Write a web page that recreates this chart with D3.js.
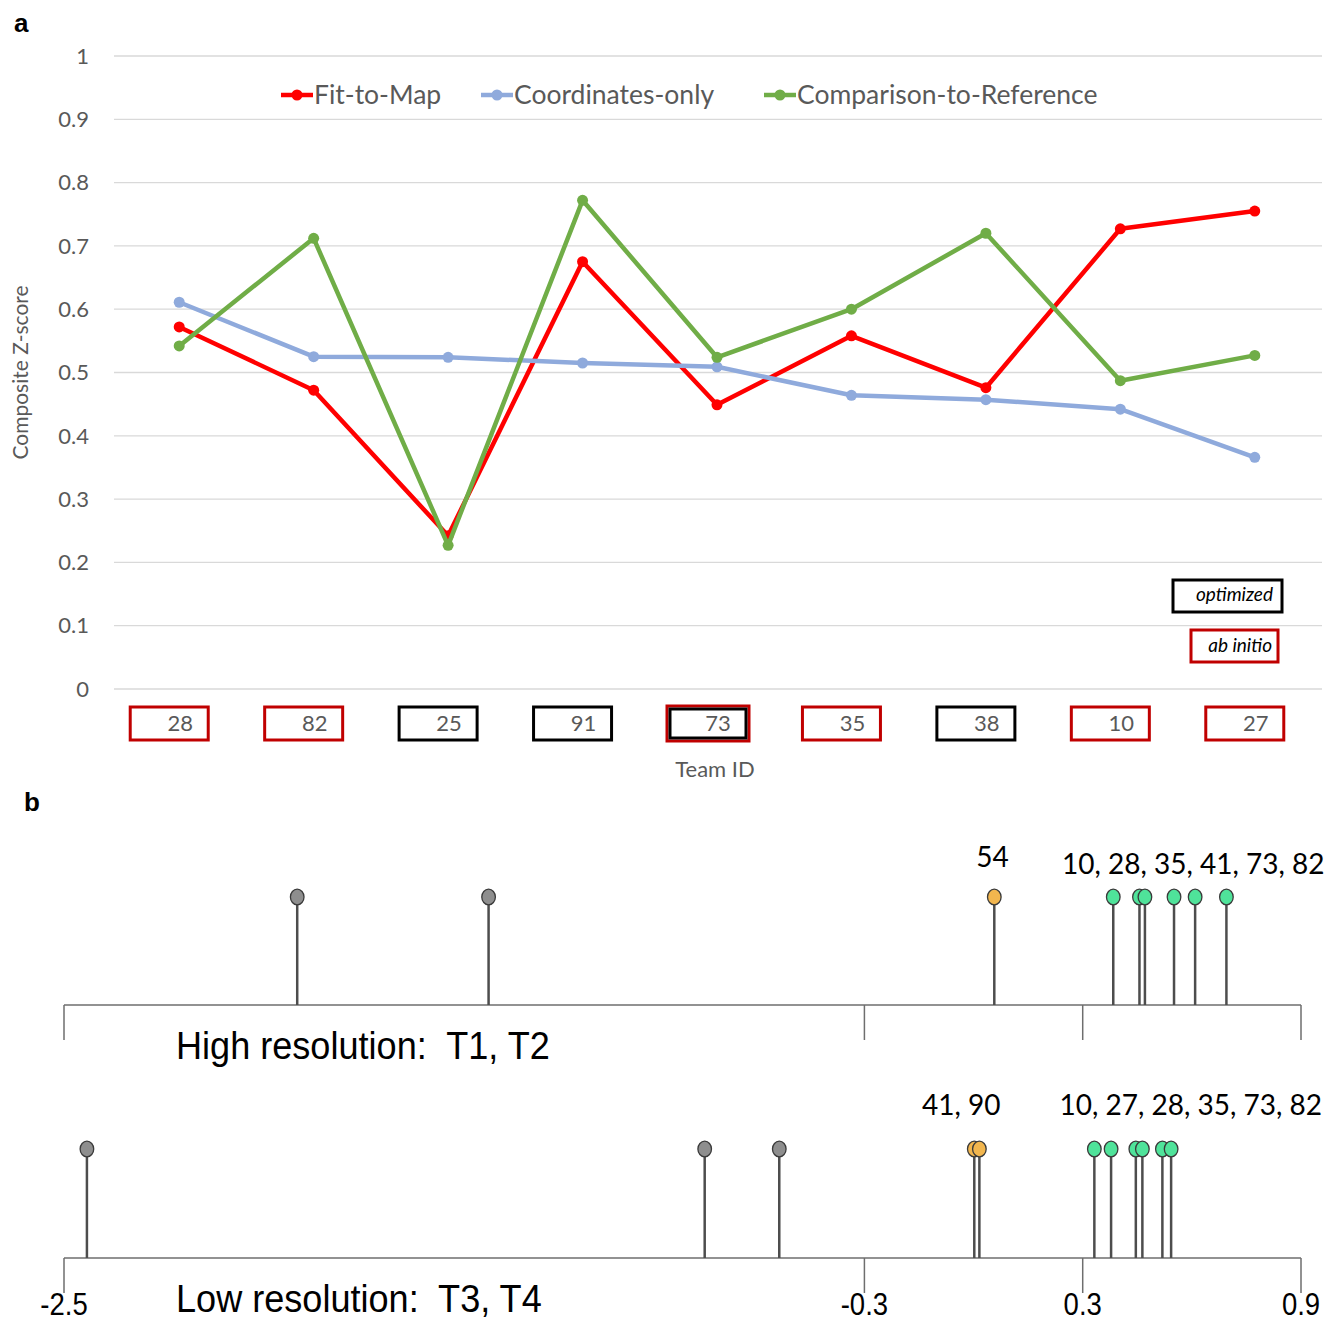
<!DOCTYPE html>
<html>
<head>
<meta charset="utf-8">
<script src="https://cdn.jsdelivr.net/npm/d3@7"></script>
<style>
  body { margin: 0; background: #fff; }
  svg { display: block; }
</style>
</head>
<body>
<div id="chart"></div>
<script>
// ---- panel a data ----
const teams = ['28', '82', '25', '91', '73', '35', '38', '10', '27']
const teamKind = ['abinitio', 'abinitio', 'optimized', 'optimized', 'both', 'abinitio', 'optimized', 'abinitio', 'abinitio']
const fitToMap = [0.572, 0.472, 0.242, 0.675, 0.449, 0.558, 0.476, 0.727, 0.755]
const coordsOnly = [0.611, 0.525, 0.524, 0.515, 0.509, 0.464, 0.457, 0.442, 0.366]
const compToRef = [0.542, 0.712, 0.227, 0.772, 0.524, 0.600, 0.720, 0.487, 0.527]
const seriesNames = ['Fit-to-Map', 'Coordinates-only', 'Comparison-to-Reference']
const yTicks = [0, 0.1, 0.2, 0.3, 0.4, 0.5, 0.6, 0.7, 0.8, 0.9, 1]

// ---- panel b data ----
const highVals = [-1.859, -1.333, 0.057, 0.384, 0.456, 0.471, 0.551, 0.609, 0.695]
const highGroup = ['grey', 'grey', 'orange', 'green', 'green', 'green', 'green', 'green', 'green']
const lowVals = [-2.437, -0.739, -0.534, 0.002, 0.016, 0.332, 0.378, 0.446, 0.464, 0.519, 0.543]
const lowGroup = ['grey', 'grey', 'grey', 'orange', 'orange', 'green', 'green', 'green', 'green', 'green', 'green']
const bTicks = [-2.5, -0.3, 0.3, 0.9]
const highLabels = [['54', 0.052], ['10, 28, 35, 41, 73, 82', 0.604]]
const lowLabels = [['41, 90', -0.034], ['10, 27, 28, 35, 73, 82', 0.597]]

const width = 1331
const height = 1324
const excelFont = 'Lato, "Open Sans", sans-serif'
const narrowFont = '"Liberation Sans", Arial, sans-serif'
const grey = '#595959'

const svg = d3.select('#chart')
    .append('svg')
    .attr('width', width)
    .attr('height', height)

// ================= panel a =================
const x = d3.scaleBand()
    .domain(teams)
    .range([112, 1322])

const y = d3.scaleLinear()
    .domain([0, 1])
    .range([689, 56])

const cx = (t) => x(t) + x.bandwidth() / 2

svg.append('text')
    .attr('x', 14).attr('y', 32)
    .style('font', 'bold 26px "Liberation Sans", Arial, sans-serif')
    .text('a')

// gridlines + tick labels
const grid = svg.append('g')
grid.selectAll('line')
    .data(yTicks)
    .join('line')
    .attr('x1', 114).attr('x2', 1322)
    .attr('y1', (d) => y(d)).attr('y2', (d) => y(d))
    .attr('stroke', '#d9d9d9')
    .attr('stroke-width', 1.3)

grid.selectAll('text')
    .data(yTicks)
    .join('text')
    .attr('x', 89)
    .attr('y', (d) => y(d))
    .attr('dy', '0.35em')
    .attr('text-anchor', 'end')
    .attr('fill', grey)
    .style('font-family', excelFont)
    .style('font-size', '22px')
    .text((d) => d)

svg.append('text')
    .attr('transform', `translate(28, ${y(0.5)}) rotate(-90)`)
    .attr('text-anchor', 'middle')
    .attr('fill', grey)
    .style('font-family', excelFont)
    .style('font-size', '21px')
    .text('Composite Z-score')

// series
const colors = ['#ff0000', '#8faadc', '#70ad47']
const allSeries = [fitToMap, coordsOnly, compToRef]
const line = d3.line()
    .x((d, i) => cx(teams[i]))
    .y((d) => y(d))

allSeries.forEach((vals, s) => {
    const g = svg.append('g')
    g.append('path')
        .datum(vals)
        .attr('d', line)
        .attr('fill', 'none')
        .attr('stroke', colors[s])
        .attr('stroke-width', 4.5)
        .attr('stroke-linejoin', 'round')
    g.selectAll('circle')
        .data(vals)
        .join('circle')
        .attr('cx', (d, i) => cx(teams[i]))
        .attr('cy', (d) => y(d))
        .attr('r', 5.5)
        .attr('fill', colors[s])
})

// legend
const legendX = [281, 481, 764]
const legend = svg.append('g')
seriesNames.forEach((name, s) => {
    const lx = legendX[s]
    legend.append('line')
        .attr('x1', lx).attr('x2', lx + 32)
        .attr('y1', 95).attr('y2', 95)
        .attr('stroke', colors[s]).attr('stroke-width', 4.5)
    legend.append('circle')
        .attr('cx', lx + 16).attr('cy', 95).attr('r', 5.5)
        .attr('fill', colors[s])
    legend.append('text')
        .attr('x', lx + 33).attr('y', 95)
        .attr('dy', '0.35em')
        .attr('fill', grey)
        .style('font-family', excelFont)
        .style('font-size', '26.5px')
        .text(name)
})

// team id boxes
const red = '#c00000'
const boxes = svg.append('g')
teams.forEach((t, i) => {
    const bx = cx(t) - 49
    const kind = teamKind[i]
    if (kind === 'both') {
        boxes.append('rect')
            .attr('x', bx - 1).attr('y', 706).attr('width', 82).attr('height', 35)
            .attr('fill', 'none').attr('stroke', red).attr('stroke-width', 3)
        boxes.append('rect')
            .attr('x', bx + 2).attr('y', 709).attr('width', 76).attr('height', 29)
            .attr('fill', 'none').attr('stroke', '#000').attr('stroke-width', 3)
    } else {
        boxes.append('rect')
            .attr('x', bx).attr('y', 707).attr('width', 78).attr('height', 33)
            .attr('fill', 'none')
            .attr('stroke', kind === 'optimized' ? '#000' : red)
            .attr('stroke-width', 3)
    }
    boxes.append('text')
        .attr('x', cx(t) + 1).attr('y', 723)
        .attr('dy', '0.35em')
        .attr('text-anchor', 'middle')
        .attr('fill', grey)
        .style('font-family', excelFont)
        .style('font-size', '22px')
        .text(t)
})

svg.append('text')
    .attr('x', 715).attr('y', 769)
    .attr('dy', '0.35em')
    .attr('text-anchor', 'middle')
    .attr('fill', grey)
    .style('font-family', excelFont)
    .style('font-size', '22px')
    .text('Team ID')

// key boxes
const key = svg.append('g')
key.append('rect')
    .attr('x', 1173).attr('y', 580).attr('width', 109).attr('height', 32)
    .attr('fill', 'none').attr('stroke', '#000').attr('stroke-width', 3)
key.append('text')
    .attr('x', 1273).attr('y', 594).attr('dy', '0.35em')
    .attr('text-anchor', 'end')
    .style('font-family', excelFont).style('font-style', 'italic').style('font-size', '19px')
    .text('optimized')
key.append('rect')
    .attr('x', 1191).attr('y', 630).attr('width', 87).attr('height', 32)
    .attr('fill', 'none').attr('stroke', red).attr('stroke-width', 3)
key.append('text')
    .attr('x', 1272).attr('y', 645).attr('dy', '0.35em')
    .attr('text-anchor', 'end')
    .style('font-family', excelFont).style('font-style', 'italic').style('font-size', '19px')
    .text('ab initio')

// ================= panel b =================
svg.append('text')
    .attr('x', 24).attr('y', 811)
    .style('font', 'bold 26px "Liberation Sans", Arial, sans-serif')
    .text('b')

const xb = d3.scaleLinear()
    .domain([-2.5, 0.9])
    .range([64, 1301])

const fills = { grey: '#8e8e8e', orange: '#f2b64e', green: '#4fe39a' }

// narrow text: squeeze horizontally around its anchor point
const narrowText = (sel, px, py, sx) => sel
    .attr('transform', `translate(${px}, ${py}) scale(${sx}, 1)`)

const drawStrip = (vals, groups, axisY, headY, title, labels, labelDy, showTicks) => {
    const g = svg.append('g')

    g.append('line')
        .attr('x1', xb(-2.5)).attr('x2', xb(0.9))
        .attr('y1', axisY).attr('y2', axisY)
        .attr('stroke', '#6e6e6e').attr('stroke-width', 1.5)

    g.selectAll('.tick')
        .data(bTicks)
        .join('line')
        .attr('class', 'tick')
        .attr('x1', (d) => xb(d)).attr('x2', (d) => xb(d))
        .attr('y1', axisY).attr('y2', axisY + 35)
        .attr('stroke', '#6e6e6e').attr('stroke-width', 1.5)

    if (showTicks) {
        g.selectAll('.tlabel')
            .data(bTicks)
            .join('text')
            .attr('class', 'tlabel')
            .attr('transform', (d) => `translate(${xb(d)}, ${axisY + 57}) scale(0.86, 1)`)
            .attr('text-anchor', 'middle')
            .style('font-family', narrowFont)
            .style('font-size', '32px')
            .text((d) => d)
    }

    g.selectAll('.stem')
        .data(vals)
        .join('line')
        .attr('class', 'stem')
        .attr('x1', (d) => xb(d)).attr('x2', (d) => xb(d))
        .attr('y1', headY).attr('y2', axisY)
        .attr('stroke', '#4d4d4d').attr('stroke-width', 2.5)

    g.selectAll('.head')
        .data(vals)
        .join('ellipse')
        .attr('class', 'head')
        .attr('cx', (d) => xb(d))
        .attr('cy', headY)
        .attr('rx', 6.8).attr('ry', 7.8)
        .attr('fill', (d, i) => fills[groups[i]])
        .attr('stroke', '#3a3a3a').attr('stroke-width', 1.3)

    g.append('text')
        .call(narrowText, 176, axisY + 54, 0.95)
        .style('font-family', narrowFont)
        .style('font-size', '38px')
        .style('white-space', 'pre')
        .text(title)

    g.selectAll('.glabel')
        .data(labels)
        .join('text')
        .attr('class', 'glabel')
        .attr('x', (d) => xb(d[1]))
        .attr('y', (d, i) => headY - labelDy[i])
        .attr('text-anchor', 'middle')
        .style('font-family', excelFont)
        .style('font-size', '28px')
        .text((d) => d[0])
}

drawStrip(highVals, highGroup, 1005, 897, 'High resolution:  T1, T2', highLabels, [30, 23], false)
drawStrip(lowVals, lowGroup, 1258, 1149, 'Low resolution:  T3, T4', lowLabels, [34, 34], true)
</script>
</body>
</html>
